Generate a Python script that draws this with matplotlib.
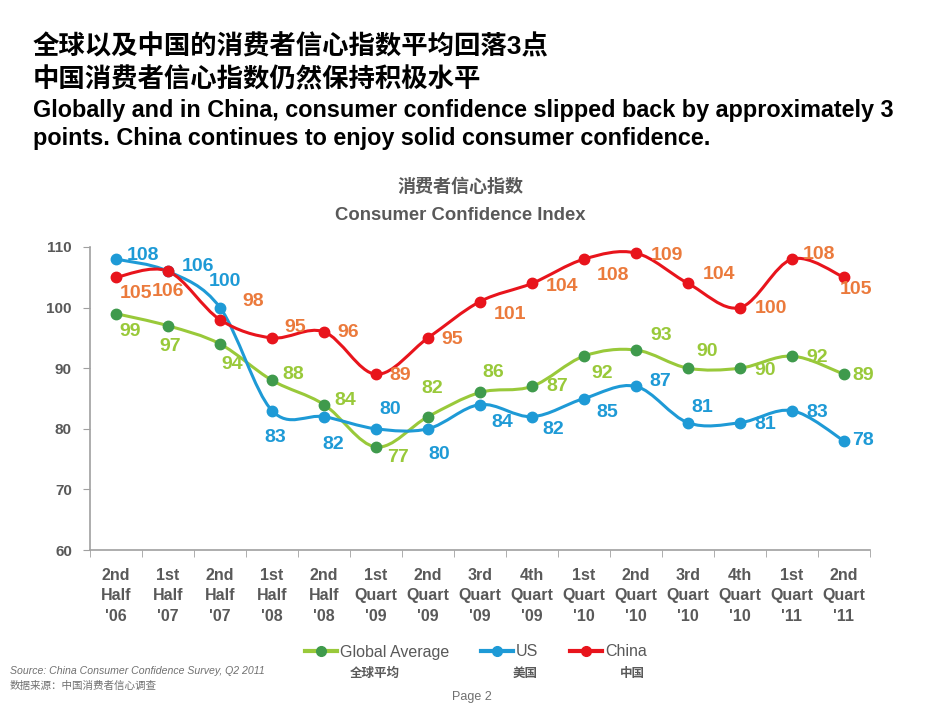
import matplotlib
matplotlib.use('Agg')
import matplotlib.pyplot as plt
from matplotlib.path import Path
from matplotlib.patches import PathPatch
from matplotlib.lines import Line2D
import numpy as np

plt.rcParams['font.family'] = ['Liberation Sans', 'Noto Sans CJK SC', 'DejaVu Sans']

periods = ["2nd\nHalf\n'06", "1st\nHalf\n'07", "2nd\nHalf\n'07", "1st\nHalf\n'08", "2nd\nHalf\n'08",
           "1st\nQuart\n'09", "2nd\nQuart\n'09", "3rd\nQuart\n'09", "4th\nQuart\n'09",
           "1st\nQuart\n'10", "2nd\nQuart\n'10", "3rd\nQuart\n'10", "4th\nQuart\n'10",
           "1st\nQuart\n'11", "2nd\nQuart\n'11"]
global_avg = [99, 97, 94, 88, 84, 77, 82, 86, 87, 92, 93, 90, 90, 92, 89]
us = [108, 106, 100, 83, 82, 80, 80, 84, 82, 85, 87, 81, 81, 83, 78]
china = [105, 106, 98, 95, 96, 89, 95, 101, 104, 108, 109, 104, 100, 108, 105]

# label offsets in pixels (dx right, dy down)
off_global = [(14, 18), (2, 21), (12, 21), (21, -6), (21, -4), (22, 11), (4, -28), (13, -20),
              (25, 0), (18, 17), (25, -15), (19, -17), (25, 2), (25, 1), (19, 1)]
off_us = [(27, -4), (30, -5), (5, -26), (3, 27), (9, 28), (14, -19), (11, 26), (22, 18),
          (21, 13), (23, 14), (24, -5), (14, -15), (25, 2), (25, 2), (19, 0)]
off_china = [(20, 16), (0, 20), (33, -18), (23, -10), (24, 1), (24, 1), (24, 2), (30, 13),
             (30, 3), (29, 16), (31, 2), (31, -9), (31, 1), (27, -5), (12, 12)]

GREEN = '#99c93a'
GREEN_DOT = '#3f9a4c'
BLUE = '#1e9ad6'
RED = '#e8141c'
ORANGE = '#eb7a3c'
GRAY = '#595959'


def smooth_path(xs, ys):
    # catmull-rom style bezier through the points
    pts = np.column_stack([xs, ys]).astype(float)
    verts = [pts[0]]
    codes = [Path.MOVETO]
    n = len(pts)
    for i in range(n - 1):
        p0 = pts[i - 1] if i > 0 else pts[i]
        p1 = pts[i]
        p2 = pts[i + 1]
        p3 = pts[i + 2] if i + 2 < n else pts[i + 1]
        c1 = p1 + (p2 - p0) / 6.0
        c2 = p2 - (p3 - p1) / 6.0
        verts += [c1, c2, p2]
        codes += [Path.CURVE4] * 3
    return Path(verts, codes)


fig = plt.figure(figsize=(9.5, 7.13), dpi=100)
ax = fig.add_axes([90 / 950, 1 - 550 / 713, 780 / 950, 303 / 713])

x = np.arange(len(periods))
series = [(global_avg, GREEN, GREEN_DOT, GREEN, off_global),
          (us, BLUE, BLUE, BLUE, off_us),
          (china, RED, RED, ORANGE, off_china)]
for vals, lc, mc, tc, offs in series:
    ax.add_patch(PathPatch(smooth_path(x, vals), fill=False, edgecolor=lc, lw=2.2, zorder=3))
    ax.plot(x, vals, ls='none', marker='o', ms=7.5, color=mc, zorder=4)
    for xi, v, (dx, dy) in zip(x, vals, offs):
        ax.annotate(str(v), (xi, v), xytext=(dx * 0.72, -dy * 0.72), textcoords='offset points',
                    ha='center', va='center', fontsize=14, fontweight='bold', color=tc, zorder=5)

ax.set_xlim(-0.5, len(periods) - 0.5)
ax.set_ylim(60, 110)
ax.set_yticks(range(60, 111, 10))
ax.set_xticks(x)
ax.set_xticklabels(periods, fontsize=11.5, fontweight='bold', color=GRAY, linespacing=1.45)
ax.set_xticks(np.arange(-0.5, len(periods), 1), minor=True)
ax.tick_params(axis='x', which='major', length=0, pad=13)
ax.tick_params(axis='x', which='minor', length=5, color='#a0a0a0', direction='out')
ax.tick_params(axis='y', length=5, color='#a0a0a0', labelsize=11, labelcolor=GRAY, pad=8)
for lbl in ax.get_yticklabels():
    lbl.set_fontweight('bold')
for s in ['top', 'right']:
    ax.spines[s].set_visible(False)
for s in ['left', 'bottom']:
    ax.spines[s].set_color('#a0a0a0')
    ax.spines[s].set_linewidth(1.2)

# titles
fig.text(33 / 950, 1 - 47 / 713, '全球以及中国的消费者信心指数平均回落3点', fontsize=19, fontweight='bold',
         va='center', ha='left', color='black')
fig.text(33 / 950, 1 - 80 / 713, '中国消费者信心指数仍然保持积极水平', fontsize=19, fontweight='bold',
         va='center', ha='left', color='black')
fig.text(33 / 950, 1 - 110 / 713,
         'Globally and in China, consumer confidence slipped back by approximately 3',
         fontsize=16.8, fontweight='bold', va='center', ha='left', color='black')
fig.text(33 / 950, 1 - 138 / 713, 'points. China continues to enjoy solid consumer confidence.',
         fontsize=16.8, fontweight='bold', va='center', ha='left', color='black')
fig.text(460 / 950, 1 - 187 / 713, '消费者信心指数', fontsize=13, fontweight='bold',
         ha='center', va='center', color=GRAY)
fig.text(460 / 950, 1 - 216 / 713, 'Consumer Confidence Index', fontsize=13.3, fontweight='bold',
         ha='center', va='center', color=GRAY)

# legend
handles = [Line2D([], [], color=GREEN, lw=3, marker='o', ms=7, mfc=GREEN_DOT, mec=GREEN_DOT),
           Line2D([], [], color=BLUE, lw=3, marker='o', ms=7),
           Line2D([], [], color=RED, lw=3, marker='o', ms=7)]
fig.legend(handles, ['Global Average', 'US', 'China'], ncol=3, loc='center',
           bbox_to_anchor=(476 / 950, 1 - 652 / 713), frameon=False, fontsize=11.5,
           handlelength=2.0, handletextpad=0.2, columnspacing=2.0, labelcolor=GRAY)
for xt, t in [(375, '全球平均'), (525, '美国'), (632, '中国')]:
    fig.text(xt / 950, 1 - 674 / 713, t, fontsize=9, fontweight='bold', ha='center',
             va='center', color=GRAY)

fig.text(10 / 950, 1 - 671 / 713, 'Source: China Consumer Confidence Survey, Q2 2011',
         fontsize=7.6, style='italic', color='#707070', va='center')
fig.text(10 / 950, 1 - 686 / 713, '数据来源：中国消费者信心调查', fontsize=7.6, style='italic',
         color='#707070', va='center')
fig.text(472 / 950, 1 - 697 / 713, 'Page 2', fontsize=9, color='#707070', ha='center', va='center')

fig.savefig('out.png', dpi=100, facecolor='white')
